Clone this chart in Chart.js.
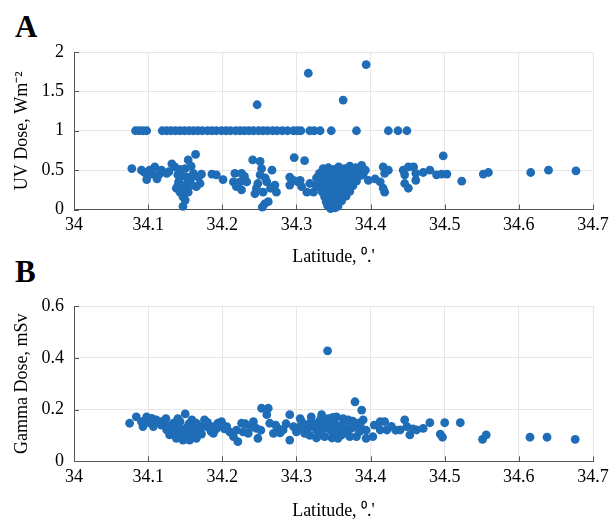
<!DOCTYPE html>
<html>
<head>
<meta charset="utf-8">
<script src="https://cdn.jsdelivr.net/npm/chart.js@4.4.1/dist/chart.umd.min.js"></script>
<style>
  html, body { margin:0; padding:0; background:#fff; }
  body { width:615px; height:522px; position:relative; overflow:hidden; }
  .panel { position:absolute; left:0; width:615px; }
  .tag { position:absolute; left:15px; font-family:"Liberation Serif", serif; font-weight:bold; font-size:31px; color:#000; }
</style>
</head>
<body>
<div class="tag" style="top:9px">A</div>
<div class="tag" style="top:254px">B</div>
<div class="panel" style="top:0;height:270px"><canvas id="uvChart" width="615" height="270"></canvas></div>
<div class="panel" style="top:260px;height:262px"><canvas id="gammaChart" width="615" height="262"></canvas></div>
<script>
// tick labels
const latTicks = [34, 34.1, 34.2, 34.3, 34.4, 34.5, 34.6, 34.7];
const uvTicks = [0, 0.5, 1, 1.5, 2];
const gammaTicks = [0, 0.2, 0.4, 0.6];

// panel A : UV dose vs latitude
const uvLat = [
  // the row sitting at 1
  34.083,34.088,34.093,34.098,34.119,34.125,34.131,34.137,34.143,34.149,34.155,34.161,34.167,34.173,34.180,34.186,
  34.192,34.199,34.205,34.211,34.218,34.224,34.230,34.236,34.242,34.249,34.255,34.261,34.268,34.274,34.281,34.288,
  34.296,34.301,34.306,34.318,34.324,34.332,34.347,34.381,34.424,34.437,34.449,
  // high ones
  34.247,34.316,34.363,34.394,
  // left group
  34.078,34.091,34.098,34.102,34.109,34.112,34.118,34.125,34.132,34.136,34.143,34.154,34.164,34.150,34.152,34.161,
  34.168,34.170,34.165,34.141,34.138,34.143,34.150,34.147,34.150,34.147,34.154,34.159,34.145,34.128,34.115,34.105,
  34.095,34.140,34.157,34.145,34.153,34.140,34.146,34.149,34.160,34.172,34.158,34.186,34.192,34.201,
  // middle group
  34.217,34.226,34.215,34.224,34.233,34.219,34.226,34.241,34.251,34.253,34.251,34.267,34.260,34.271,34.273,34.246,
  34.244,34.255,34.262,34.257,34.254,34.297,34.311,34.291,34.291,34.302,34.307,34.318,34.327,34.323,34.296,34.305,
  34.314,34.230,34.258,34.248,34.265,
  // dense group near 34.35
  34.336,34.343,34.350,34.357,34.365,34.372,34.380,
  34.331,34.338,34.346,34.353,34.361,34.368,34.376,34.384,
  34.327,34.334,34.341,34.349,34.356,34.364,34.371,34.379,34.386,
  34.329,34.336,34.344,34.351,34.359,34.366,34.374,34.381,
  34.332,34.339,34.347,34.354,34.362,34.369,34.376,
  34.335,34.342,34.350,34.357,34.365,34.372,
  34.338,34.345,34.352,34.360,34.367,
  34.340,34.347,34.354,34.361,
  34.342,34.349,34.356,
  34.346,34.352,
  34.388,34.390,34.397,34.393,
  // right side
  34.406,34.413,34.417,34.424,34.419,34.417,34.419,34.444,34.451,34.458,34.446,34.461,34.461,34.446,34.451,34.471,
  34.480,34.489,34.498,34.496,34.503,34.523,34.552,34.559,34.616,34.640,34.677
];
const uvDose = [
  1,1,1,1,1,1,1,1,1,1,1,1,1,1,1,1,
  1,1,1,1,1,1,1,1,1,1,1,1,1,1,1,1,
  1,1,1,1,1,1,1,1,1,1,1,
  1.33,1.73,1.39,1.84,
  0.52,0.50,0.38,0.50,0.54,0.39,0.50,0.46,0.58,0.54,0.51,0.63,0.70,0.52,0.41,0.46,
  0.41,0.33,0.29,0.35,0.27,0.22,0.27,0.16,0.12,0.04,0.22,0.31,0.31,0.48,0.45,0.45,
  0.47,0.44,0.38,0.42,0.33,0.30,0.24,0.20,0.42,0.45,0.55,0.45,0.44,0.38,
  0.46,0.46,0.35,0.35,0.35,0.29,0.25,0.63,0.61,0.52,0.44,0.50,0.35,0.31,0.22,0.27,
  0.20,0.22,0.10,0.07,0.03,0.66,0.62,0.41,0.31,0.35,0.29,0.33,0.29,0.22,0.37,0.37,
  0.22,0.42,0.40,0.33,0.27,
  0.52,0.53,0.51,0.54,0.52,0.55,0.53,
  0.46,0.47,0.45,0.47,0.46,0.48,0.46,0.49,
  0.40,0.41,0.39,0.41,0.40,0.42,0.40,0.41,0.43,
  0.34,0.33,0.35,0.34,0.33,0.35,0.34,0.36,
  0.28,0.27,0.29,0.28,0.27,0.29,0.30,
  0.22,0.21,0.23,0.22,0.21,0.23,
  0.16,0.15,0.17,0.16,0.17,
  0.10,0.11,0.09,0.11,
  0.05,0.06,0.04,
  0.01,0.02,
  0.56,0.44,0.37,0.50,
  0.39,0.35,0.54,0.50,0.46,0.27,0.22,0.50,0.54,0.54,0.44,0.46,0.37,0.33,0.27,0.47,
  0.50,0.44,0.68,0.45,0.45,0.36,0.45,0.47,0.47,0.50,0.49
];

// panel B : gamma dose vs latitude
const gammaLat = [
  34.075,34.084,34.091,34.098,34.105,34.111,34.093,34.107,34.118,34.125,34.129,34.138,34.147,34.156,34.165,34.134,
  34.143,34.150,34.159,34.165,34.170,34.179,34.188,34.194,34.120,34.128,34.136,34.145,34.152,34.160,34.140,34.155,
  34.167,34.148,34.132,34.115,34.162,34.172,34.176,34.185,34.192,34.100,34.124,34.142,34.158,34.151,
  34.183,34.188,34.199,34.206,34.210,34.215,34.221,34.226,34.228,34.235,34.242,34.246,34.248,34.253,34.262,34.260,
  34.264,34.269,34.275,34.282,34.291,34.291,34.296,34.300,34.307,34.311,34.318,34.320,34.327,34.332,34.334,34.338,
  34.341,34.345,34.350,34.354,34.356,34.361,34.365,34.370,34.374,34.379,34.381,34.383,
  34.325,34.330,34.336,34.343,34.348,34.352,34.358,34.363,34.367,34.372,34.376,34.385,34.388,34.390,34.394,34.394,
  34.403,34.360,34.346,34.335,34.327,34.322,34.315,34.303,34.286,34.278,34.272,34.252,34.238,34.231,34.219,34.203,
  34.196,34.180,34.170,34.342,
  34.305,34.312,34.318,34.340,34.353,34.369,34.378,34.386,34.364,34.349,34.332,34.357,
  34.413,34.419,34.413,34.422,34.440,34.446,34.449,34.453,34.462,34.471,34.480,34.500,34.494,34.497,34.521,34.551,
  34.556,34.615,34.638,34.676,34.405,34.428,34.434,34.457
];
const gammaDose = [
  0.147,0.172,0.153,0.172,0.166,0.160,0.134,0.134,0.140,0.121,0.102,0.089,0.082,0.082,0.089,0.147,
  0.153,0.183,0.160,0.147,0.121,0.134,0.134,0.147,0.155,0.135,0.120,0.110,0.130,0.105,0.165,0.145,
  0.118,0.095,0.118,0.148,0.092,0.105,0.160,0.115,0.125,0.150,0.165,0.128,0.125,0.108,
  0.127,0.108,0.153,0.134,0.114,0.095,0.076,0.147,0.114,0.108,0.153,0.127,0.089,0.205,0.205,0.180,
  0.147,0.108,0.127,0.121,0.180,0.082,0.134,0.114,0.153,0.108,0.147,0.172,0.121,0.160,0.180,0.095,
  0.134,0.153,0.114,0.172,0.089,0.140,0.108,0.160,0.127,0.230,0.095,0.147,
  0.145,0.100,0.125,0.165,0.090,0.145,0.120,0.165,0.130,0.095,0.155,0.115,0.198,0.160,0.120,0.089,
  0.095,0.100,0.118,0.140,0.090,0.135,0.125,0.130,0.145,0.110,0.140,0.120,0.130,0.145,0.120,0.125,
  0.140,0.150,0.135,0.427,
  0.165,0.140,0.100,0.150,0.130,0.115,0.135,0.140,0.150,0.170,0.115,0.105,
  0.153,0.153,0.121,0.121,0.121,0.160,0.134,0.102,0.121,0.127,0.149,0.149,0.105,0.093,0.149,0.085,
  0.102,0.093,0.093,0.085,0.140,0.135,0.120,0.125
];

const dotColor = '#1f6db7';
const serif = '"Liberation Serif", "Times New Roman", serif';

// small inward tick marks like the original figure
const innerTicks = {
  id: 'innerTicks',
  afterDraw(chart) {
    const ctx = chart.ctx, a = chart.chartArea;
    const xs = chart.scales.x, ys = chart.scales.y;
    ctx.save();
    ctx.strokeStyle = '#555';
    ctx.lineWidth = 1;
    ctx.beginPath();
    xs.ticks.forEach(t => {
      const px = Math.round(xs.getPixelForValue(t.value)) + 0.5;
      ctx.moveTo(px, a.bottom); ctx.lineTo(px, a.bottom - 5);
    });
    ys.ticks.forEach(t => {
      const py = Math.round(ys.getPixelForValue(t.value)) + 0.5;
      ctx.moveTo(a.left, py); ctx.lineTo(a.left + 5, py);
    });
    ctx.stroke();
    ctx.restore();
  }
};

function makeChart(id, lat, vals, yTicks, yMax, yTitle, padTop, xHeight, titlePadBottom) {
  const pts = lat.map((x, i) => ({x: x, y: vals[i]}));
  return new Chart(document.getElementById(id), {
    type: 'scatter',
    data: {
      datasets: [{
        data: pts,
        backgroundColor: dotColor,
        borderWidth: 0,
        pointRadius: 4.4,
        clip: 6
      }]
    },
    options: {
      responsive: false,
      animation: false,
      layout: { padding: { top: padTop, right: 22, left: 0, bottom: 0 } },
      plugins: { legend: { display: false }, tooltip: { enabled: false } },
      scales: {
        x: {
          type: 'linear', min: 34, max: 34.7,
          afterBuildTicks: s => { s.ticks = latTicks.map(v => ({value: v})); },
          afterFit: s => { s.height = xHeight; },
          ticks: {
            color: '#000', padding: 5, maxRotation: 0,
            font: { family: serif, size: 18 },
            callback: v => String(+Number(v).toFixed(1))
          },
          grid: { color: '#e6e6e6', drawTicks: false },
          border: { color: '#555', width: 1 },
          title: {
            display: true, text: 'Latitude, \u2070.\'', color: '#000',
            font: { family: serif, size: 18 }, padding: { top: 0, bottom: titlePadBottom }
          }
        },
        y: {
          type: 'linear', min: 0, max: yMax,
          afterBuildTicks: s => { s.ticks = yTicks.map(v => ({value: v})); },
          afterFit: s => { s.width = 74; },
          ticks: {
            color: '#000', padding: 10,
            font: { family: serif, size: 18 },
            callback: v => String(+Number(v).toFixed(1))
          },
          grid: { color: '#e6e6e6', drawTicks: false },
          border: { color: '#555', width: 1 },
          title: {
            display: true, text: yTitle, color: '#000',
            font: { family: serif, size: 18 }, padding: { top: 11, bottom: 0 }
          }
        }
      }
    },
    plugins: [innerTicks]
  });
}

makeChart('uvChart', uvLat, uvDose, uvTicks, 2, 'UV Dose, Wm\u207B\u00B2', 52, 60.5, 2);
makeChart('gammaChart', gammaLat, gammaDose, gammaTicks, 0.6, 'Gamma Dose, mSv', 46, 60.7, 0);
</script>
</body>
</html>
